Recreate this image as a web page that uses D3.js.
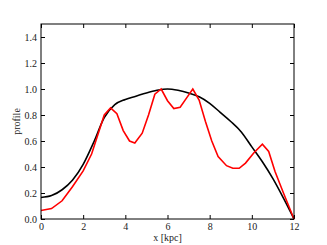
<!DOCTYPE html>
<html>
<head>
<meta charset="utf-8">
<script src="https://cdn.jsdelivr.net/npm/d3@7"></script>
<style>
  body { margin: 0; background: #fff; }
  text { font-family: "Liberation Serif", serif; font-size: 10px; fill: #222; }
</style>
</head>
<body>
<div id="chart"></div>
<script>
// model profile (black) and measured profile (red)
const modelX = [0, 0.5, 1, 1.5, 2, 2.5, 3, 3.5, 4, 4.5, 5, 5.5, 6, 6.5, 7, 7.5, 8, 8.5, 9, 9.5, 10, 10.5, 11, 11.5, 12];
const modelY = [0.165, 0.18, 0.225, 0.3, 0.42, 0.59, 0.78, 0.88, 0.92, 0.945, 0.97, 0.99, 1.0, 0.99, 0.97, 0.94, 0.89, 0.82, 0.75, 0.67, 0.555, 0.44, 0.31, 0.16, 0.0];

const dataX = [0, 0.5, 1, 1.5, 2, 2.4, 2.7, 3, 3.3, 3.6, 3.9, 4.2, 4.45, 4.8, 5.1, 5.4, 5.7, 6.0, 6.3, 6.6, 6.9, 7.2, 7.5, 7.8, 8.1, 8.4, 8.8, 9.1, 9.4, 9.7, 10.1, 10.5, 10.8, 11.1, 11.5, 12];
const dataY = [0.065, 0.08, 0.14, 0.25, 0.37, 0.5, 0.65, 0.8, 0.855, 0.81, 0.68, 0.6, 0.585, 0.66, 0.8, 0.96, 1.0, 0.91, 0.85, 0.86, 0.93, 1.0, 0.915, 0.75, 0.6, 0.48, 0.41, 0.39, 0.39, 0.43, 0.51, 0.575, 0.52, 0.365, 0.2, 0.0];

const xTicks = [0, 2, 4, 6, 8, 10, 12];
const yTicks = [0.0, 0.2, 0.4, 0.6, 0.8, 1.0, 1.2, 1.4];

const width = 327, height = 245;
const margin = { top: 24, right: 33, bottom: 26, left: 41 };
const iw = width - margin.left - margin.right;
const ih = height - margin.top - margin.bottom;

const svg = d3.select("#chart").append("svg")
  .attr("width", width)
  .attr("height", height);

const g = svg.append("g")
  .attr("transform", "translate(" + margin.left + "," + margin.top + ")");

const x = d3.scaleLinear().domain([0, 12]).range([0, iw]);
const y = d3.scaleLinear().domain([0, 1.5]).range([ih, 0]);

// axes, ticks pointing inward on all sides

function styleAxis(sel) {
  sel.select(".domain").remove();
  sel.selectAll(".tick line").attr("stroke", "#000");
}

g.append("g")
  .attr("transform", "translate(0," + ih + ")")
  .call(d3.axisBottom(x).tickValues(xTicks).tickSizeInner(-4).tickSizeOuter(0).tickPadding(4).tickFormat(d3.format("d")))
  .call(styleAxis);

g.append("g")
  .call(d3.axisTop(x).tickValues(xTicks).tickSizeInner(-4).tickSizeOuter(0).tickFormat(""))
  .call(styleAxis);

g.append("g")
  .call(d3.axisLeft(y).tickValues(yTicks).tickSizeInner(-4).tickSizeOuter(0).tickPadding(4).tickFormat(d3.format(".1f")))
  .call(styleAxis);

g.append("g")
  .attr("transform", "translate(" + iw + ",0)")
  .call(d3.axisRight(y).tickValues(yTicks).tickSizeInner(-4).tickSizeOuter(0).tickFormat(""))
  .call(styleAxis);

svg.selectAll(".tick text").attr("font-family", "Liberation Serif, serif").attr("font-size", 10).attr("fill", "#333");

// lines

const model = modelX.map((d, i) => [d, modelY[i]]);
const measured = dataX.map((d, i) => [d, dataY[i]]);

g.append("path")
  .datum(model)
  .attr("fill", "none")
  .attr("stroke", "#000")
  .attr("stroke-width", 1.6)
  .attr("d", d3.line().x(d => x(d[0])).y(d => y(d[1])).curve(d3.curveMonotoneX));

g.append("path")
  .datum(measured)
  .attr("fill", "none")
  .attr("stroke", "#ff0000")
  .attr("stroke-width", 1.6)
  .attr("d", d3.line().x(d => x(d[0])).y(d => y(d[1])));

// frame

g.append("rect")
  .attr("width", iw)
  .attr("height", ih)
  .attr("fill", "none")
  .attr("stroke", "#000")
  .attr("stroke-width", 1);

// labels

svg.append("text")
  .attr("x", margin.left + iw / 2)
  .attr("y", 241)
  .attr("text-anchor", "middle")
  .text("x [kpc]");

svg.append("text")
  .attr("transform", "translate(20," + (margin.top + ih / 2) + ") rotate(-90)")
  .attr("text-anchor", "middle")
  .text("profile");
</script>
</body>
</html>
